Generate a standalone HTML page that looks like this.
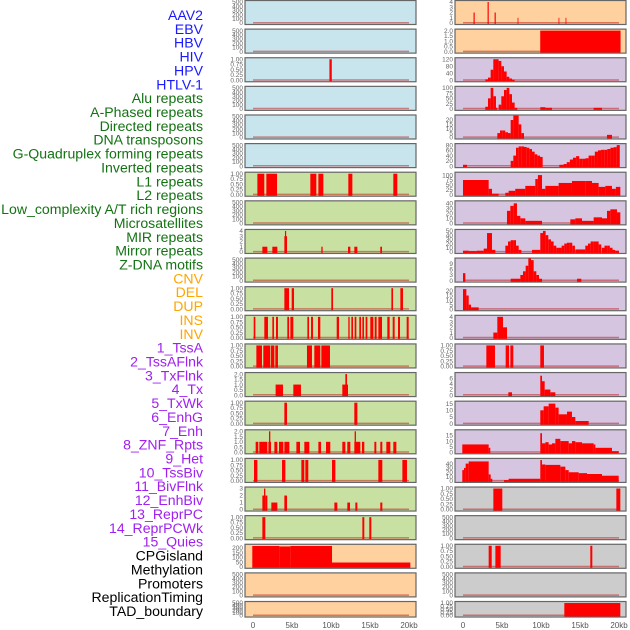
<!DOCTYPE html>
<html><head><meta charset="utf-8"><style>
html,body{margin:0;padding:0;background:#fff;width:630px;height:630px;overflow:hidden}
svg{display:block}
</style></head><body>
<svg id="chart" width="630" height="630" xmlns="http://www.w3.org/2000/svg"></svg>
<script>
const trackLabels = ["AAV2","EBV","HBV","HIV","HPV","HTLV-1","Alu repeats","A-Phased repeats","Directed repeats","DNA transposons","G-Quadruplex forming repeats","Inverted repeats","L1 repeats","L2 repeats","Low_complexity A/T rich regions","Microsatellites","MIR repeats","Mirror repeats","Z-DNA motifs","CNV","DEL","DUP","INS","INV","1_TssA","2_TssAFlnk","3_TxFlnk","4_Tx","5_TxWk","6_EnhG","7_Enh","8_ZNF_Rpts","9_Het","10_TssBiv","11_BivFlnk","12_EnhBiv","13_ReprPC","14_ReprPCWk","15_Quies","CPGisland","Methylation","Promoters","ReplicationTiming","TAD_boundary"];
const labelGroups = [6,13,5,15,5];
const groupColors = ["#1a1aff","#137313","#ffa500","#a020f0","#000000"];
const xTickLabels = ["0","5kb","10kb","15kb","20kb"];
const xTickValues = [0,5,10,15,20];
const B="blank";
const leftBg = ["b","b","b","b","b","b","g","g","g","g","g","g","g","g","g","g","g","g","g","o","o","o"];
const rightBg = ["o","o","p","p","p","p","p","p","p","p","p","p","p","p","p","p","p","g2","g2","g2","g2","g2"];
const leftTicks = [B,B,[0,0.25,0.5,0.75,1],B,B,B,[0,0.25,0.5,0.75,1],B,[0,1,2,3,4],B,[0,0.25,0.5,0.75,1],[0,0.25,0.5,0.75,1],[0,0.25,0.5,0.75,1],[0,0.5,1,1.5,2],[0,0.25,0.5,0.75,1],[0,0.5,1,1.5,2],[0,0.25,0.5,0.75,1],[0,1,2,3],[0,0.25,0.5,0.75,1],[0,50,100,150,200],B,B];
const rightTicks = [[0,1,2,3,4],[0,0.5,1,1.5,2],[0,40,80,120],[0,25,50,75,100],[0,5,10,15,20],[0,20,40,60,80],[0,25,50,75,100],[0,10,20,30,40],[0,10,20,30,40,50],[0,3,6,9],[0,5,10,15,20],[0,1,2,3,4],[0,0.25,0.5,0.75,1],[0,2,4,6],[0,5,10,15],[0,5,10,15],[0,10,20,30,40],[0,0.25,0.5,0.75,1],B,[0,0.25,0.5,0.75,1],B,[0,0.25,0.5,0.75,1]];
const leftMax = [500,500,1,500,500,500,1,500,4,500,1,1,1,2,1,2,1,3,1,222,500,500];
const rightMax = [4,2,120,100,24,80,107,42,50,11.3,23,4,1,7.6,15.7,18.7,48.5,1,500,1,500,1];
const W=0.342;
function steps(s,vals,w){w=w||W;return vals.map((v,i)=>[s+i*w,s+(i+1)*w,v]);}
const leftSegs = [
 [],[],
 [[9.8,10.1,1]],
 [],[],[],
 [[0.56,1.45,1],[1.71,3.08,1],[7.35,8.12,1],[8.38,9.02,1],[12.22,12.74,1],[17.99,18.5,1]],
 [],
 [[1.2,1.84,1],[2.48,3.12,1],[4.02,4.36,3],[4.1,4.25,4],[8.76,8.93,1],[12.18,12.48,1],[12.99,13.38,1],[16.32,16.54,1]],
 [],
 [[4.02,4.62,1],[4.96,5.26,1],[10.04,10.26,1],[17.74,17.95,1],[18.89,19.23,1]],
 [[0.09,0.3,1],[1.45,1.92,1],[2.48,2.69,1],[2.95,3.2,1],[4.4,4.62,1],[4.79,5.17,1],[6.97,7.18,1],[7.44,7.69,1],[8.33,8.63,1],[10.73,11.03,1],[12.22,12.39,1],[12.61,12.82,1],[13.03,13.25,1],[13.63,13.85,1],[14.02,14.23,1],[14.44,14.66,1],[15.04,15.43,1],[15.6,15.85,1],[16.07,16.54,1],[17.22,17.52,1],[17.91,18.16,1],[18.59,18.85,1],[19.7,19.96,1]],
 [[0.43,1.15,1],[1.32,2.22,1],[2.31,2.74,1],[2.86,3.2,1],[6.92,7.56,1],[7.86,8.63,1],[8.76,9.87,1]],
 [[2.9,3.85,1],[5.17,6.15,1],[11.45,12.18,1],[11.84,12.05,2]],
 [[4.02,4.36,1],[12.99,13.38,1]],
 [[0.34,0.68,1],[0.81,1.84,1],[1.97,2.31,1],[2.05,2.22,2],[2.74,3.12,1],[3.33,3.89,1],[4.02,4.66,1],[5.56,6.03,1],[6.58,7.22,1],[8.38,8.72,1],[9.36,9.91,1],[11.45,11.84,1],[12.09,12.48,1],[12.99,13.76,1],[13.03,13.2,2],[13.97,14.27,1],[15.56,15.81,1],[16.32,16.58,1],[17.09,17.61,1],[17.99,18.38,1]],
 [[0.13,0.56,1],[3.72,4.15,1],[6.2,6.58,1],[6.71,7.09,1],[10.13,10.56,1],[16.07,16.58,1],[19.15,19.74,1]],
 [[1.2,1.41,2],[1.41,1.58,3],[1.58,1.84,2],[2.35,3.12,1],[4.02,4.36,2],[10.43,10.81,1],[12.09,12.44,1],[13.12,13.38,1],[16.32,16.58,1]],
 [[1.2,1.58,1],[14.02,14.27,1],[14.91,15.17,1]],
 [[-0.09,3.38,220],[3.38,4.79,215],[4.79,10.13,220],[10.13,20.17,45]],
 [],[]
];
const rightSegs = [
 [[1.35,1.5,2],[3.15,3.3,4],[4.05,4.2,2],[7.0,7.1,1],[12.25,12.35,1],[13.15,13.25,1]],
 [[9.9,20.2,2]],
 steps(2.86,[5,15,60,120,120,110,80,50,20,10,3]),
 steps(2.86,[10,50,100,60]).concat([[4.23,4.4,5]],steps(4.57,[20,60,90,100,70,30,5]),[[9.91,10.56,8],[10.56,11.41,5],[16.75,17.82,5]]),
 steps(4.4,[5,8,8,6,5]).concat(steps(6.11,[20,25,25,15,5]),[[18.46,19.1,3]]),
 [[0,0.51,5]].concat(steps(6.11,[20,40,70,75,75,73,70,65,55,45,40,35]),[[12.35,12.9,5]],steps(12.9,[8,15,25,32,38,28,28,30,40,40,55,60,62,62,65,70,72,80],0.4)),
 [[0,3.29,75],[3.29,3.72,30],[3.72,4.57,5],[5.43,5.85,10],[5.85,6.7,20],[6.7,7.99,30],[7.99,9.27,45],[9.27,9.6,80],[9.6,10.13,100],[10.13,10.56,30],[10.56,12.26,45],[12.26,13.97,60],[13.97,15.68,70],[15.68,16.54,70],[16.54,17.39,60],[17.39,18.25,40],[18.25,19.1,45],[19.1,19.6,30],[19.6,20.17,40]],
 [[5.64,6.07,25],[6.07,6.5,35],[6.5,6.92,40],[6.92,7.35,15],[7.35,7.99,10],[7.99,10.13,5],[13.76,14.4,8],[14.4,15.26,10],[15.26,16.75,5],[16.75,17.82,12],[17.82,18.46,10],[18.46,18.89,25],[18.89,19.74,28],[19.74,20.17,22]],
 [[0,0.73,3],[0.73,1.79,2],[1.79,2.65,3],[2.65,3.08,8],[3.08,3.72,45],[3.72,4.15,5]].concat(steps(5.43,[15,25,28,28,15,5]),[[8.85,9.91,5]],steps(9.91,[45,50,40,30,25,15,10]),steps(12.3,[10,15,20,22,22,15]),[[14.4,15.68,6]],steps(15.68,[15,20,25,25,25,18]),steps(17.8,[10,15,15,10,5]),[[19.5,20.0,3]]),
 [[0,0.3,4],[6.11,7.35,1]].concat(steps(7.35,[3,5,8,12,11,5,3]),[[9.7,10.13,1],[14.62,15.17,1]]),
 [[0,0.43,22],[0.43,0.73,15],[0.73,1.03,5],[1.03,2.01,2]],
 [[3.89,4.4,1],[4.4,5.13,4],[5.13,5.64,2]],
 [[2.99,4.1,1],[5.47,5.9,1],[6.07,6.45,1],[9.91,10.38,1]],
 [[5.81,6.28,1],[9.91,10.13,7],[10.13,10.47,5],[10.47,11.2,2],[11.2,11.84,1]],
 [[9.91,10.34,10],[10.34,10.98,13],[10.98,11.84,15],[11.84,12.26,12],[12.26,13.33,7],[13.33,13.97,9],[13.97,14.4,5],[14.4,16.11,2]],
 [[-0.09,3.29,7],[3.29,3.5,4],[9.91,10.13,17],[10.13,10.56,8],[10.56,10.98,9],[10.98,11.41,7],[11.41,11.84,8],[11.84,12.48,12],[12.48,13.55,10],[13.55,13.97,8],[13.97,14.4,10],[14.4,15.26,9],[15.26,16.75,8],[16.75,16.97,7],[16.97,19.1,4],[19.1,19.96,1]],
 [[-0.09,0.13,25],[0.13,0.34,30],[0.34,0.73,40],[0.73,3.29,45],[3.29,3.55,15],[3.55,3.76,5],[5.26,5.85,2],[5.85,9.91,5],[9.91,10.13,48],[10.13,10.56,38],[10.56,12.48,37],[12.48,13.12,33],[13.12,13.55,25],[13.55,14.83,20],[14.83,15.9,18],[15.9,17.82,16],[17.82,19.96,12]],
 [[3.89,5.04,1],[19.66,20.17,1]],
 [],
 [[3.29,3.68,1],[4.15,4.83,1],[16.32,16.58,1]],
 [],
 [[12.99,20.17,1]]
];
const bgColors={b:"#c8e4ec",g:"#c8e1a3",o:"#fed19f",p:"#d5c5e1",g2:"#cccccc"};
const NS="http://www.w3.org/2000/svg";
const svg=document.getElementById("chart");
function mk(tag,attrs,parent){const e=document.createElementNS(NS,tag);for(const k in attrs)e.setAttribute(k,attrs[k]);(parent||svg).appendChild(e);return e;}
let li=0;
labelGroups.forEach((n,g)=>{for(let j=0;j<n;j++){const y=15+li*13.86;
 const t=mk("text",{x:203,y:y+5,"text-anchor":"end","font-family":"Liberation Sans, sans-serif","font-size":"14.1",fill:groupColors[g]});
 t.textContent=trackLabels[li];
 
 
 li++;}});
const cols=[{x0:245,x1:416,z:253,bg:leftBg,ticks:leftTicks,max:leftMax,segs:leftSegs,name:"left"},{x0:455,x1:626,z:463,bg:rightBg,ticks:rightTicks,max:rightMax,segs:rightSegs,name:"right"}];
const KB=7.8;
function fmt(v,ticks){const d=ticks.some(t=>Math.round(t*100)%100!==0&&Math.round(t*100)%50!==0)?2:(ticks.some(t=>t%1!==0)?1:0);return d?v.toFixed(d):String(v);}
for(let r=0;r<22;r++){
 const top=0.5+r*28.62, h=(r===21)?15.5:24;
 cols.forEach(c=>{
  const g=mk("g",{});
  
  
  mk("rect",{x:c.x0,y:top,width:c.x1-c.x0,height:h,fill:bgColors[c.bg[r]],stroke:"#666","stroke-width":1.2},g);
  const ys=v=>top+h-1.5-v/c.max[r]*(h-3);
  const xs=k=>c.z+k*KB;
  let tk=c.ticks[r];
  const blank=tk===B;
  if(blank) tk=[0,100,200,300,400,500];
  tk.forEach(v=>{const t=mk("text",{x:c.x0-2,y:ys(v)+2.2,"text-anchor":"end","font-family":"Liberation Sans, sans-serif","font-size":"6.5",fill:"#666"},g);
   t.textContent=blank?String(v):fmt(v,tk);
   
   });
  const bl=mk("line",{x1:xs(0),x2:xs(20),y1:ys(0)-0.3,y2:ys(0)-0.3,stroke:"rgba(190,0,0,0.45)","stroke-width":1.5},g);
  
  
  c.segs[r].forEach(s=>{
   const y=ys(s[2]);
   const b=mk("rect",{x:xs(s[0]),y:y,width:Math.max(0.8,xs(s[1])-xs(s[0])),height:ys(0)-y+1,fill:"#ff0000"},g);
   
   
  });
 });
}
cols.forEach(c=>{xTickValues.forEach((v,i)=>{
 const t=mk("text",{x:c.z+v*KB,y:628,"text-anchor":"middle","font-family":"Liberation Sans, sans-serif","font-size":"8",fill:"#555"});
 t.textContent=xTickLabels[i];
 
 
});});
</script>
</body></html>
